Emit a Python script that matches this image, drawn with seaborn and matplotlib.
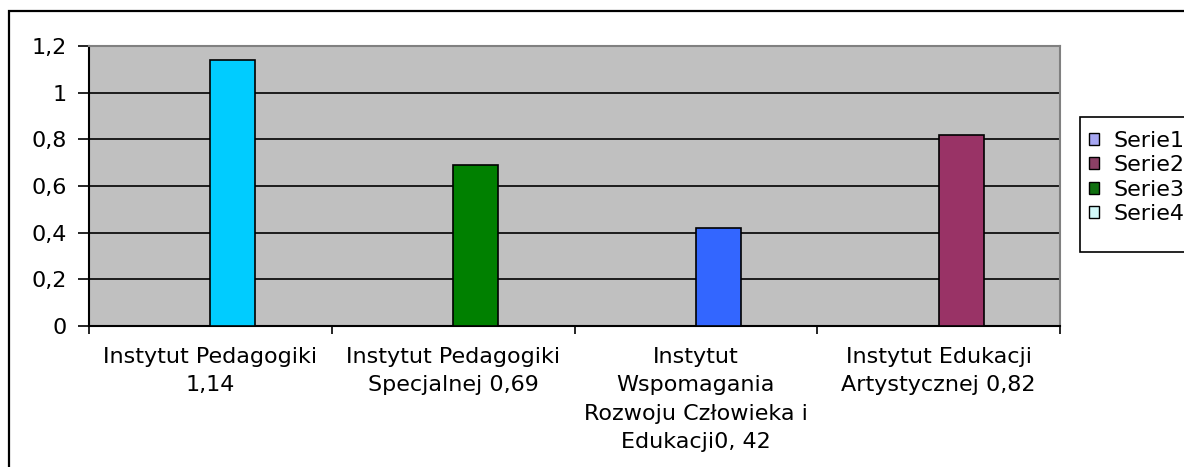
import matplotlib
matplotlib.use("Agg")
import matplotlib.pyplot as plt
import seaborn as sns
import pandas as pd
import numpy as np
from matplotlib.patches import Rectangle

categories = [
    "Instytut Pedagogiki\n1,14",
    "Instytut Pedagogiki\nSpecjalnej 0,69",
    "Instytut\nWspomagania\nRozwoju Człowieka i\nEdukacji0, 42",
    "Instytut Edukacji\nArtystycznej 0,82",
]
series = ["Serie1", "Serie2", "Serie3", "Serie4"]
serie1 = [np.nan, np.nan, np.nan, np.nan]
serie2 = [np.nan, np.nan, np.nan, np.nan]
serie3 = [1.14, 0.69, 0.42, 0.82]
serie4 = [np.nan, np.nan, np.nan, np.nan]
legend_colors = ["#9999FF", "#993366", "#008000", "#CCFFFF"]
bar_colors = ["#00CCFF", "#008000", "#3366FF", "#993366"]
y_ticks = [0, 0.2, 0.4, 0.6, 0.8, 1.0, 1.2]
y_tick_labels = ["0", "0,2", "0,4", "0,6", "0,8", "1", "1,2"]

rows = []
for name, vals in zip(series, [serie1, serie2, serie3, serie4]):
    for c, v in zip(categories, vals):
        rows.append({"cat": c, "serie": name, "val": v})
df = pd.DataFrame(rows)

sns.set_theme(style="white")
plt.rcParams["font.family"] = ["DejaVu Sans"]
plt.rcParams["text.color"] = "black"
FS = 16

fig = plt.figure(figsize=(11.84, 4.67), dpi=100)
W, H = 1184, 467
ax = fig.add_axes([89 / W, 1 - 326 / H, (1060 - 89) / W, (326 - 46) / H])
ax.set_facecolor("#C0C0C0")

sns.barplot(data=df, x="cat", y="val", hue="serie", hue_order=series,
            order=categories, palette=legend_colors, width=0.74,
            edgecolor="black", linewidth=1.2, ax=ax, zorder=3)

# per-point colours of the visible series
for patch, col in zip(ax.containers[2], bar_colors):
    patch.set_facecolor(col)

ax.set_xlim(-0.5, len(categories) - 0.5)
ax.set_ylim(0, 1.2)
ax.set_yticks(y_ticks)
ax.set_yticklabels(y_tick_labels, fontsize=FS, color="black")
ax.set_xlabel("")
ax.set_ylabel("")
ax.yaxis.grid(True, color="black", linewidth=1.2, zorder=0)
ax.set_axisbelow(True)
ax.xaxis.grid(False)

ax.tick_params(axis="y", direction="out", length=8, width=1.2, color="black",
               pad=8, left=True)
ax.tick_params(axis="x", which="major", length=0, pad=15, labelsize=FS,
               labelcolor="black")
ax.set_xticks(np.arange(-0.5, len(categories), 1.0), minor=True)
ax.tick_params(axis="x", which="minor", direction="out", length=6, width=1.2,
               color="black", bottom=True)
for lab in ax.get_xticklabels():
    lab.set_linespacing(1.53)
    lab.set_verticalalignment("top")

for side in ["left", "bottom"]:
    ax.spines[side].set_color("black")
    ax.spines[side].set_linewidth(1.5)
for side in ["top", "right"]:
    ax.spines[side].set_color("#808080")
    ax.spines[side].set_linewidth(1.5)

sns.move_legend(ax, "upper left", bbox_to_anchor=(1080 / W, 1 - 122 / H),
                bbox_transform=fig.transFigure, title=None, frameon=False,
                fontsize=FS, handlelength=0.45,
                handleheight=0.45, handletextpad=0.65, labelspacing=0.2,
                borderpad=0.4, borderaxespad=0)
leg = ax.get_legend()
for t in leg.get_texts():
    t.set_color("black")
for h in leg.legend_handles:
    h.set_edgecolor("black")
    h.set_linewidth(1.0)

# legend frame (Excel style box, taller than its entries)
fig.patches.append(Rectangle((1080 / W, 1 - 252 / H), 0.2, (252 - 117) / H,
                             transform=fig.transFigure, fill=True,
                             facecolor="white", edgecolor="black",
                             linewidth=1.2, zorder=-1))

# outer chart border
fig.patches.append(Rectangle((9 / W, -0.05), 1.1, 1 - 11 / H + 0.05,
                             transform=fig.transFigure, fill=False,
                             edgecolor="black", linewidth=1.6, zorder=-1))

fig.savefig("out.png", dpi=100, facecolor="white")
